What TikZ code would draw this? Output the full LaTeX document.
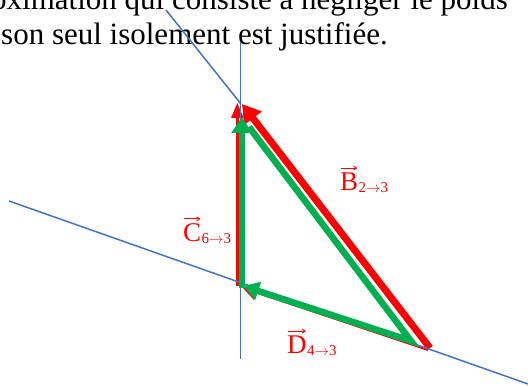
\documentclass[tikz,border=0pt]{standalone}
\usepackage{fontspec}
\setmainfont{Liberation Serif}
\usetikzlibrary{arrows.meta}
\definecolor{lblue}{HTML}{4472C4}
\definecolor{fred}{HTML}{FF0000}
\definecolor{fgreen}{HTML}{00B050}
\tikzset{
  axisline/.style={draw=lblue,line width=1.5pt},
  bodytext/.style={inner sep=0pt,font=\fontsize{31}{36}\selectfont},
  forcelab/.style={inner sep=0pt,anchor=base west,text=fred,font=\fontsize{27}{27}\selectfont},
  forcesub/.style={inner sep=0pt,anchor=base west,text=fred,font=\fontsize{15}{15}\selectfont,yshift=-2pt},
  overarrow/.style={draw=fred,line width=0.9pt,-{Straight Barb[length=3pt,width=4pt]}},
  redthin/.style={draw=fred,line width=2.5pt},
  redthick/.style={draw=fred,line width=7pt},
  greenthick/.style={draw=fgreen,line width=6.5pt,line join=miter}
}
\begin{document}
\begin{tikzpicture}[x=1pt,y=-1pt]
\useasboundingbox (0,0) rectangle (528,387);
\clip (0,0) rectangle (528,387);
% text
\node[bodytext,anchor=base east] (t1) at (508,10) {oximation qui consiste à négliger le poids};
\node[bodytext,anchor=base west] (t2) at (1,45) {son seul isolement est justifiée.};
% coordinates
\coordinate (cR1) at (237.3,286);
\coordinate (cR2) at (237.3,103);
\coordinate (bR1) at (430,348);
\coordinate (bR2) at (242,104);
\coordinate (dR1) at (428,350);
\coordinate (dR2) at (243,288);
\coordinate (gC1) at (241.8,288);
\coordinate (gC2) at (241.8,117);
\coordinate (gB1) at (249,127);
\coordinate (gV) at (411,341);
\coordinate (gD2) at (243,286);
\coordinate (a1) at (166,10);
\coordinate (a2) at (241,104);
\coordinate (v1) at (240.5,42);
\coordinate (v2) at (240.5,359);
\coordinate (h1) at (9,201);
\coordinate (h2) at (528,384);
% red force triangle
\draw[redthin,-{Triangle[length=15pt,width=12pt]}] (cR1) -- (cR2);
\draw[redthick,-{Triangle[length=18pt,width=21pt]}] (bR1) -- (bR2);
\draw[draw=fred,line width=2pt,-{Triangle[length=14pt,width=15pt]}] (dR1) -- (dR2);
% blue lines
\draw[axisline] (a1) -- (a2);
\draw[axisline] (v1) -- (v2);
\draw[axisline] (h1) -- (h2);
% green triangle
\draw[greenthick,-{Triangle[length=16pt,width=20pt]}] (gC1) -- (gC2);
\draw[greenthick,-{Triangle[length=16pt,width=18pt]}] (gB1) -- (gV) -- (gD2);
% labels
\node[forcelab] (lB) at (340,191) {B};
\node[forcesub] (lBs) at (lB.base east) {2$\rightarrow$3};
\draw[overarrow] ([xshift=1pt,yshift=5pt]lB.north west) -- ([xshift=-1pt,yshift=5pt]lB.north east);
\node[forcelab] (lC) at (183,242) {C};
\node[forcesub] (lCs) at (lC.base east) {6$\rightarrow$3};
\draw[overarrow] ([xshift=1pt,yshift=5pt]lC.north west) -- ([xshift=-1pt,yshift=5pt]lC.north east);
\node[forcelab] (lD) at (287,354) {D};
\node[forcesub] (lDs) at (lD.base east) {4$\rightarrow$3};
\draw[overarrow] ([xshift=1pt,yshift=5pt]lD.north west) -- ([xshift=-1pt,yshift=5pt]lD.north east);
\end{tikzpicture}
\end{document}
